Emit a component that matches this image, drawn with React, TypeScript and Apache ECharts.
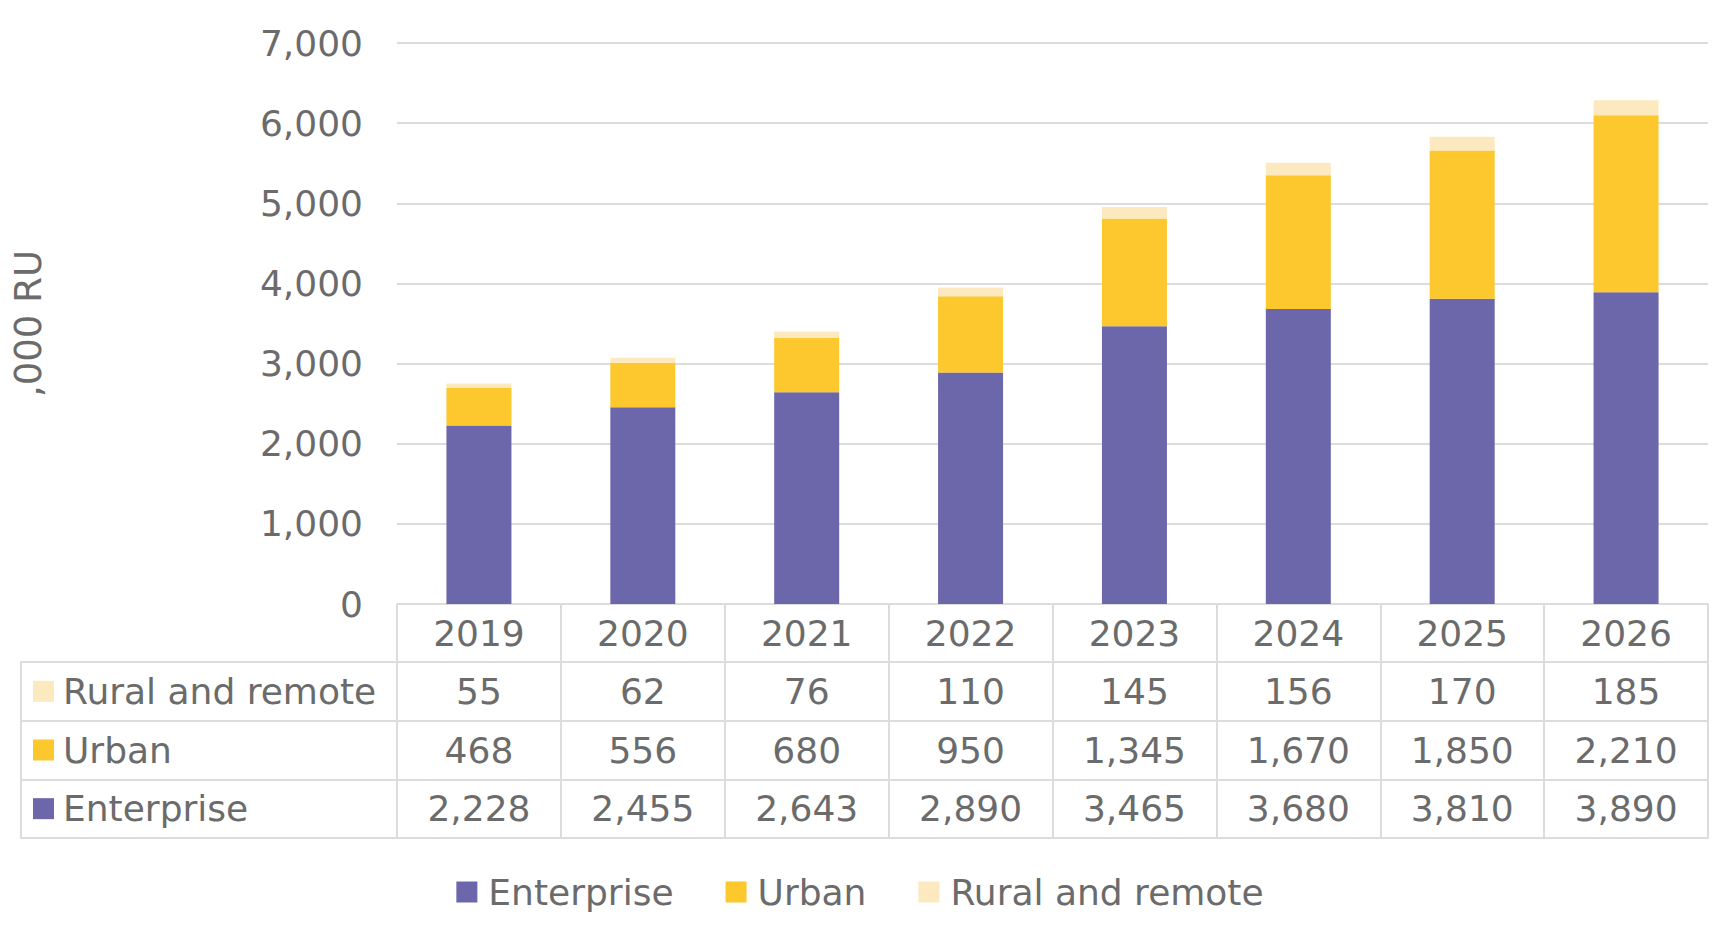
import { useEffect, useRef } from "react";
import * as echarts from "echarts";

const years = ["2019", "2020", "2021", "2022", "2023", "2024", "2025", "2026"];
const enterprise = [2228, 2455, 2643, 2890, 3465, 3680, 3810, 3890];
const urban = [468, 556, 680, 950, 1345, 1670, 1850, 2210];
const rural = [55, 62, 76, 110, 145, 156, 170, 185];

// table rows, bottom to top
const rowNames = ["Enterprise", "Urban", "Rural and remote"];
const rowValues = [enterprise, urban, rural];
const colors = ["#6c67ab", "#fdc72e", "#fde9c0"];

const TEXT = "#6b6b6b";
const LINE = "#dcdcdc";
const FONT = "DejaVu Sans";
const fmt = (v: number) => v.toLocaleString("en-US");

export default function App() {
  const chartRef = useRef<HTMLDivElement>(null);

  useEffect(() => {
    if (!chartRef.current) return;
    const chart = echarts.init(chartRef.current, null, { renderer: "svg" });

    const cells: number[][] = [];
    rowValues.forEach((vals, r) => vals.forEach((v, i) => cells.push([i, r, v])));

    const rich: Record<string, any> = {
      t: { fontSize: 36, color: TEXT, fontFamily: FONT, padding: [0, 0, 0, 9] },
    };
    colors.forEach((c, i) => {
      rich["m" + i] = { width: 21, height: 21, backgroundColor: c };
    });

    const option = {
      animation: false,
      backgroundColor: "#ffffff",
      textStyle: { fontFamily: FONT },
      grid: [
        { left: 397, right: 12, top: 43, height: 561 },
        { left: 21, width: 376, top: 662, height: 176, show: true, borderColor: LINE, borderWidth: 2 },
        { left: 397, right: 12, top: 662, height: 176, show: true, borderColor: LINE, borderWidth: 2 },
      ],
      xAxis: [
        {
          type: "category",
          gridIndex: 0,
          data: years,
          axisLine: { lineStyle: { color: LINE, width: 2 } },
          axisTick: { show: true, length: 58, interval: 0, lineStyle: { color: LINE, width: 2 } },
          axisLabel: { color: TEXT, fontSize: 36, fontFamily: FONT, margin: 29, verticalAlign: "middle" },
        },
        { type: "value", gridIndex: 1, show: false },
        {
          type: "category",
          gridIndex: 2,
          data: years,
          axisLine: { show: false },
          axisTick: { show: false },
          axisLabel: { show: false },
          splitLine: { show: true, interval: 0, lineStyle: { color: LINE, width: 2 } },
        },
      ],
      yAxis: [
        {
          type: "value",
          gridIndex: 0,
          min: 0,
          max: 7000,
          interval: 1000,
          name: ",000 RU",
          nameLocation: "middle",
          nameRotate: 90,
          nameGap: 350,
          nameTextStyle: { color: TEXT, fontSize: 37, fontFamily: FONT },
          axisLine: { show: false },
          axisTick: { show: false },
          axisLabel: { color: TEXT, fontSize: 36, fontFamily: FONT, margin: 34, formatter: (v: number) => fmt(v) },
          splitLine: { lineStyle: { color: LINE, width: 2 } },
        },
        {
          type: "category",
          gridIndex: 1,
          data: rowNames,
          axisLine: { show: false },
          axisTick: { show: false },
          splitLine: { show: true, interval: 0, lineStyle: { color: LINE, width: 2 } },
          axisLabel: {
            inside: true,
            margin: 12,
            interval: 0,
            formatter: (v: string, i: number) => `{m${i}|}{t|${v}}`,
            rich,
          },
        },
        {
          type: "category",
          gridIndex: 2,
          data: rowNames,
          axisLine: { show: false },
          axisTick: { show: false },
          axisLabel: { show: false },
          splitLine: { show: true, interval: 0, lineStyle: { color: LINE, width: 2 } },
        },
      ],
      legend: {
        data: rowNames,
        left: "center",
        top: 869,
        icon: "rect",
        itemWidth: 21,
        itemHeight: 21,
        itemGap: 52,
        textStyle: { color: TEXT, fontSize: 36, fontFamily: FONT, padding: [0, 0, 0, 6] },
      },
      series: [
        ...rowNames.map((name, r) => ({
          name,
          type: "bar",
          stack: "total",
          xAxisIndex: 0,
          yAxisIndex: 0,
          barWidth: 65,
          data: rowValues[r],
          itemStyle: { color: colors[r] },
        })),
        {
          name: "table",
          type: "scatter",
          xAxisIndex: 2,
          yAxisIndex: 2,
          symbolSize: 0,
          silent: true,
          itemStyle: { opacity: 1 },
          data: cells,
          label: {
            show: true,
            position: "inside",
            color: TEXT,
            opacity: 1,
            textBorderWidth: 0,
            fontSize: 36,
            fontFamily: FONT,
            formatter: (p: any) => fmt(p.value[2]),
          },
        },
      ],
    };

    chart.setOption(option);
    return () => chart.dispose();
  }, []);

  return (
    <div
      ref={chartRef}
      style={{ position: "fixed", left: 0, top: 0, width: 1720, height: 925 }}
    />
  );
}
